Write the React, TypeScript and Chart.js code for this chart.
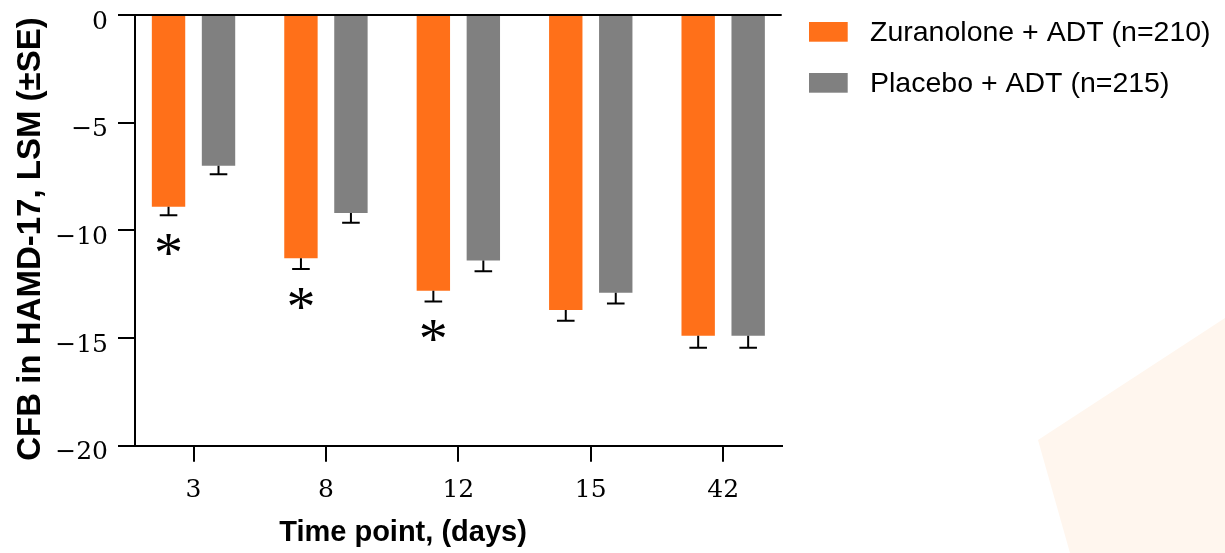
import React, { useEffect, useRef } from "react";
import { Chart, registerables } from "chart.js";

Chart.register(...registerables);

const categories = ["3", "8", "12", "15", "42"];
const zuranolone = [-8.9, -11.3, -12.8, -13.7, -14.9];
const zuranoloneSE = [0.4, 0.5, 0.5, 0.5, 0.55];
const placebo = [-7.0, -9.2, -11.4, -12.9, -14.9];
const placeboSE = [0.4, 0.45, 0.5, 0.5, 0.55];
const significant = [true, true, true, false, false];
const yTicks = [0, -5, -10, -15, -20];
const seriesLabels = ["Zuranolone + ADT (n=210)", "Placebo + ADT (n=215)"];
const seriesColors = ["#FF7019", "#808080"];
const xTitle = "Time point, (days)";
const yTitle = "CFB in HAMD-17, LSM (\u00B1SE)";

const errors = [zuranoloneSE, placeboSE];
const values = [zuranolone, placebo];

const decorPlugin = {
  id: "decor",
  beforeDraw(chart: any) {
    const ctx = chart.ctx;
    ctx.save();
    ctx.fillStyle = "#FFF6EE";
    ctx.beginPath();
    ctx.moveTo(1038, 440);
    ctx.lineTo(1225, 318);
    ctx.lineTo(1225, 553);
    ctx.lineTo(1070, 553);
    ctx.closePath();
    ctx.fill();
    ctx.restore();
  },
};

const errorPlugin = {
  id: "errbars",
  afterDatasetsDraw(chart: any) {
    const ctx = chart.ctx;
    const yScale = chart.scales.y;
    ctx.save();
    ctx.strokeStyle = "#000";
    ctx.lineWidth = 2;
    chart.data.datasets.forEach((ds: any, di: number) => {
      const meta = chart.getDatasetMeta(di);
      meta.data.forEach((el: any, i: number) => {
        const v = values[di][i];
        const se = errors[di][i];
        const y0 = yScale.getPixelForValue(v);
        const y1 = yScale.getPixelForValue(v - se);
        ctx.beginPath();
        ctx.moveTo(el.x, y0);
        ctx.lineTo(el.x, y1);
        ctx.moveTo(el.x - 8.8, y1);
        ctx.lineTo(el.x + 8.8, y1);
        ctx.stroke();
        if (di === 0 && significant[i]) {
          ctx.fillStyle = "#000";
          ctx.font = "58px 'Liberation Serif', serif";
          ctx.textAlign = "center";
          ctx.textBaseline = "alphabetic";
          const m = ctx.measureText("*");
          const cy = y1 + 29;
          const base = cy + (m.actualBoundingBoxAscent - m.actualBoundingBoxDescent) / 2;
          ctx.fillText("*", el.x, base);
        }
      });
    });
    ctx.restore();
  },
  afterDraw(chart: any) {
    const ctx = chart.ctx;
    ctx.save();
    // legend
    chart.data.datasets.forEach((ds: any, di: number) => {
      const cy = 32 + di * 51;
      ctx.fillStyle = ds.backgroundColor;
      ctx.fillRect(809, cy - 10, 38.7, 19.7);
      ctx.fillStyle = "#000";
      ctx.font = "28.5px 'Liberation Sans', Arial, sans-serif";
      ctx.textAlign = "left";
      ctx.textBaseline = "middle";
      ctx.fillText(ds.label, 870, cy + 1);
    });
    // axis titles
    ctx.fillStyle = "#000";
    ctx.font = "bold 29px 'Liberation Sans', Arial, sans-serif";
    ctx.textAlign = "center";
    ctx.textBaseline = "middle";
    ctx.fillText(xTitle, 403, 533);
    ctx.translate(30, 239);
    ctx.rotate(-Math.PI / 2);
    ctx.font = "bold 33px 'Liberation Sans', Arial, sans-serif";
    ctx.fillText(yTitle, 0, 1);
    ctx.restore();
  },
};

export default function App() {
  const ref = useRef<HTMLCanvasElement | null>(null);
  useEffect(() => {
    if (!ref.current) return;
    const tickFont = { family: "'DejaVu Serif', serif", size: 25 };
    const chart = new Chart(ref.current, {
      type: "bar",
      data: {
        datasets: [0, 1].map((di) => ({
          label: seriesLabels[di],
          data: categories.map((_, i) => ({ x: i, y: values[di][i] })),
          backgroundColor: seriesColors[di],
          borderWidth: 0,
          categoryPercentage: 0.755,
          barPercentage: 0.668,
        })),
      },
      options: {
        animation: false,
        responsive: true,
        maintainAspectRatio: false,
        layout: { padding: { top: 15, right: 443.3, bottom: 0, left: 0 } },
        plugins: { legend: { display: false }, tooltip: { enabled: false } },
        scales: {
          x: {
            type: "linear",
            offset: false,
            min: -0.442,
            max: 4.442,
            afterBuildTicks: (s: any) => {
              s.ticks = categories.map((_, i) => ({ value: i }));
            },
            afterFit: (s: any) => {
              s.height = 107.3;
              s.paddingLeft = 0;
              s.paddingRight = 0;
            },
            ticks: {
              font: tickFont,
              color: "#000",
              padding: 14,
              maxRotation: 0,
              callback: (v: any) => categories[v] ?? "",
            },
            grid: {
              offset: false,
              drawOnChartArea: false,
              tickLength: 16,
              color: "#000",
              tickColor: "#000",
              lineWidth: 2,
            },
            border: { display: true, color: "#000", width: 2 },
          },
          y: {
            min: -20,
            max: 0,
            afterBuildTicks: (s: any) => {
              s.ticks = yTicks.map((v) => ({ value: v }));
            },
            afterFit: (s: any) => {
              s.width = 135;
              s.paddingTop = 0;
              s.paddingBottom = 0;
            },
            ticks: {
              font: tickFont,
              color: "#000",
              padding: 10,
              labelOffset: 7,
              callback: (v: any) => (v < 0 ? "\u2212" + Math.abs(v) : String(v)),
            },
            grid: {
              color: (c: any) => (c.tick && c.tick.value === 0 ? "#000" : "rgba(0,0,0,0)"),
              tickColor: "#000",
              tickLength: 17,
              lineWidth: 2,
            },
            border: { display: true, color: "#000", width: 2 },
          },
        },
      },
      plugins: [decorPlugin, errorPlugin],
    });
    return () => chart.destroy();
  }, []);
  return (
    <div style={{ position: "absolute", left: 0, top: 0, width: 1225, height: 553 }}>
      <canvas ref={ref} />
    </div>
  );
}
